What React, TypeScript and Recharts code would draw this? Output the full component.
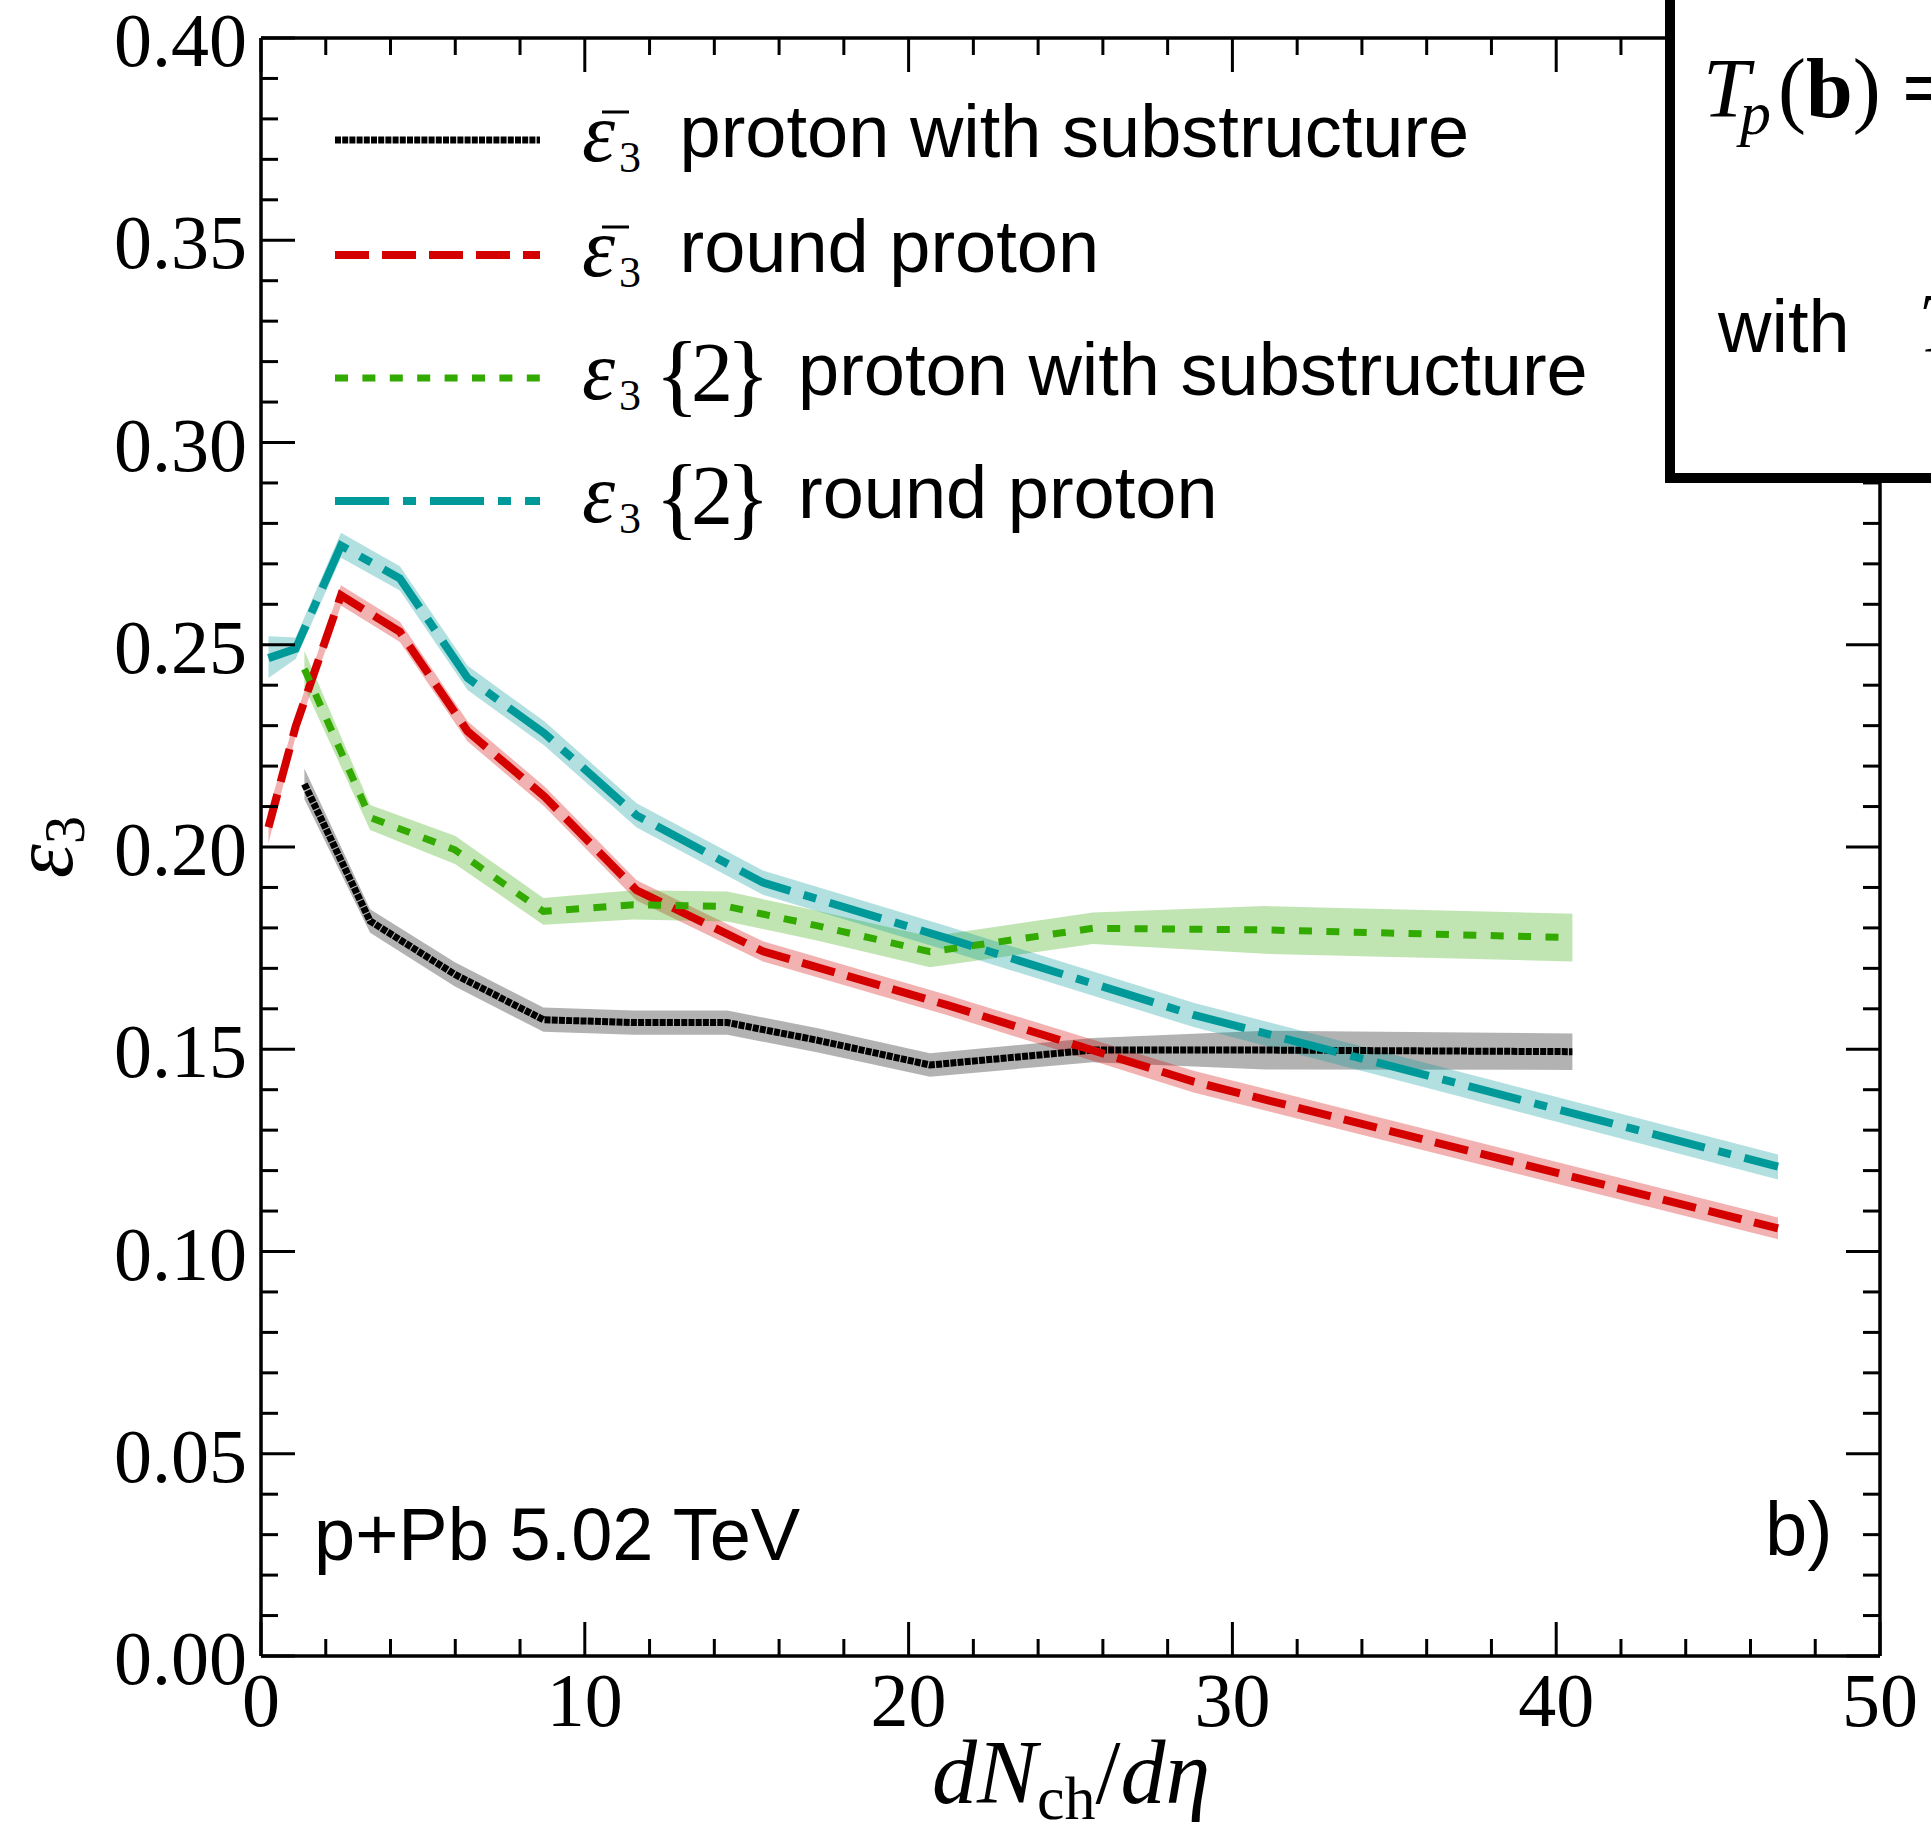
import React from 'react';
import { ComposedChart, Area, Line, XAxis, YAxis } from 'recharts';

// dN_ch/deta bins, proton with substructure
const subX = [1.34, 3.37, 5.99, 8.72, 11.5, 14.4, 17.2, 20.66, 25.69, 31.0, 40.5];
// mean eccentricity, proton with substructure
const meanSub = [0.2156, 0.1817, 0.1685, 0.1573, 0.1566, 0.1566, 0.1522, 0.1461, 0.1498, 0.1498, 0.1494];
const meanSubErr = [0.0038, 0.0029, 0.003, 0.003, 0.003, 0.003, 0.003, 0.0029, 0.003, 0.0048, 0.0045];
// two-particle cumulant eccentricity, proton with substructure
const twoSub = [0.244, 0.2073, 0.1993, 0.1841, 0.1857, 0.1853, 0.1805, 0.1741, 0.1799, 0.1795, 0.1776];
const twoSubErr = [0.0045, 0.0031, 0.0035, 0.0033, 0.0036, 0.0037, 0.0037, 0.0038, 0.0039, 0.0059, 0.0059];

// dN_ch/deta bins, round proton
const roundX = [0.23, 1.07, 2.47, 4.29, 6.38, 8.75, 11.6, 15.5, 21.2, 28.8, 46.85];
// mean eccentricity, round proton
const meanRound = [0.2049, 0.2298, 0.2622, 0.2532, 0.2286, 0.2125, 0.1893, 0.1742, 0.1609, 0.142, 0.1057];
const meanRoundErr = [0.004, 0.0025, 0.0025, 0.0025, 0.0025, 0.0025, 0.0025, 0.0025, 0.0025, 0.0027, 0.0027];
// two-particle cumulant eccentricity, round proton
const twoRound = [0.2467, 0.249, 0.2745, 0.2664, 0.2418, 0.2281, 0.2078, 0.1912, 0.1774, 0.1585, 0.121];
const twoRoundLo = [0.2418, 0.2465, 0.2715, 0.2634, 0.2388, 0.2251, 0.2048, 0.1882, 0.1744, 0.1555, 0.1178];
const twoRoundHi = [0.2521, 0.2518, 0.2777, 0.2694, 0.2448, 0.2311, 0.2108, 0.1942, 0.1804, 0.1615, 0.124];

// axis ticks
const X_MAJOR = [0, 10, 20, 30, 40, 50];
const X_MINOR = [2, 4, 6, 8, 12, 14, 16, 18, 22, 24, 26, 28, 32, 34, 36, 38, 42, 44, 46, 48];
const Y_MAJOR = [0, 0.05, 0.1, 0.15, 0.2, 0.25, 0.3, 0.35, 0.4];
const Y_MINOR = [
  0.01, 0.02, 0.03, 0.04, 0.06, 0.07, 0.08, 0.09, 0.11, 0.12, 0.13, 0.14, 0.16, 0.17, 0.18, 0.19,
  0.21, 0.22, 0.23, 0.24, 0.26, 0.27, 0.28, 0.29, 0.31, 0.32, 0.33, 0.34, 0.36, 0.37, 0.38, 0.39,
];

type Row = { x: number; y: number; band: [number, number] };

const withErr = (xs: number[], ys: number[], err: number[]): Row[] =>
  xs.map((x, i) => ({ x, y: ys[i], band: [ys[i] - err[i], ys[i] + err[i]] }));
const withBand = (xs: number[], ys: number[], lo: number[], hi: number[]): Row[] =>
  xs.map((x, i) => ({ x, y: ys[i], band: [lo[i], hi[i]] }));

const SERIES = [
  {
    id: 'meanSub',
    data: withErr(subX, meanSub, meanSubErr),
    color: '#000000',
    width: 7,
    dash: '6 1.2',
    legendY: 140,
    bar: true,
    text: 'proton with substructure',
  },
  {
    id: 'meanRound',
    data: withErr(roundX, meanRound, meanRoundErr),
    color: '#d40000',
    width: 8,
    dash: '34 13',
    legendY: 255,
    bar: true,
    text: 'round proton',
  },
  {
    id: 'twoSub',
    data: withErr(subX, twoSub, twoSubErr),
    color: '#33aa00',
    width: 7,
    dash: '13 14.4',
    legendY: 378,
    bar: false,
    text: 'proton with substructure',
  },
  {
    id: 'twoRound',
    data: withBand(roundX, twoRound, twoRoundLo, twoRoundHi),
    color: '#009999',
    width: 8,
    dash: '54 14 13 14',
    legendY: 501,
    bar: false,
    text: 'round proton',
  },
];

const SERIF = '"Liberation Serif", "DejaVu Serif", serif';
const SANS = '"Liberation Sans", Arial, sans-serif';
const MAJOR_LEN = 34;
const MINOR_LEN = 17;
const TICK_W = 3;

const LeftTick = (p: any) => {
  const { x, y, payload } = p;
  const v = payload.value as number;
  const major = Y_MAJOR.includes(v);
  return (
    <g>
      <line x1={x} x2={x + (major ? MAJOR_LEN : MINOR_LEN)} y1={y} y2={y} stroke="#000" strokeWidth={TICK_W} />
      {major && (
        <text x={x - 14} y={y + 28} textAnchor="end" fontFamily={SERIF} fontSize={76} fill="#000">
          {v.toFixed(2)}
        </text>
      )}
    </g>
  );
};

const RightTick = (p: any) => {
  const { x, y, payload } = p;
  const major = Y_MAJOR.includes(payload.value);
  return <line x1={x} x2={x - (major ? MAJOR_LEN : MINOR_LEN)} y1={y} y2={y} stroke="#000" strokeWidth={TICK_W} />;
};

const BottomTick = (p: any) => {
  const { x, y, payload } = p;
  const v = payload.value as number;
  const major = X_MAJOR.includes(v);
  return (
    <g>
      <line x1={x} x2={x} y1={y} y2={y - (major ? MAJOR_LEN : MINOR_LEN)} stroke="#000" strokeWidth={TICK_W} />
      {major && (
        <text x={x} y={y + 70} textAnchor="middle" fontFamily={SERIF} fontSize={76} fill="#000">
          {String(v)}
        </text>
      )}
    </g>
  );
};

const TopTick = (p: any) => {
  const { x, y, payload } = p;
  const major = X_MAJOR.includes(payload.value);
  return <line x1={x} x2={x} y1={y} y2={y + (major ? MAJOR_LEN : MINOR_LEN)} stroke="#000" strokeWidth={TICK_W} />;
};

const axisLine = { stroke: '#000', strokeWidth: 3.5 };

const LegendRows = () => (
  <g>
    {SERIES.map((s) => {
      const mathBase = s.legendY + 21;
      const textBase = s.legendY + 17;
      return (
        <g key={s.id}>
          <line x1={335} x2={540} y1={s.legendY} y2={s.legendY} stroke={s.color} strokeWidth={s.width} strokeDasharray={s.dash} />
          <text x={582} y={mathBase} fontFamily={SERIF} fontStyle="italic" fontSize={84} fill="#000">
            ε
          </text>
          {s.bar && <line x1={602} x2={629} y1={mathBase - 49} y2={mathBase - 49} stroke="#000" strokeWidth={3} />}
          <text x={619} y={mathBase + 11} fontFamily={SERIF} fontSize={44} fill="#000">
            3
          </text>
          {!s.bar && (
            <g>
              <text x={655} y={mathBase + 6} fontFamily={SERIF} fontSize={92} fill="#000">
                {'{'}
              </text>
              <text x={691} y={mathBase + 2} fontFamily={SERIF} fontSize={84} fill="#000">
                2
              </text>
              <text x={726} y={mathBase + 6} fontFamily={SERIF} fontSize={92} fill="#000">
                {'}'}
              </text>
            </g>
          )}
          <text x={s.bar ? 679.5 : 798} y={textBase} fontFamily={SANS} fontSize={74} fill="#000">
            {s.text}
          </text>
        </g>
      );
    })}
  </g>
);

export default function App() {
  return (
    <div
      style={{
        position: 'fixed',
        left: 0,
        top: 0,
        width: 1931,
        height: 1826,
        overflow: 'hidden',
        background: '#ffffff',
      }}
    >
      <ComposedChart width={1931} height={1826} margin={{ top: 37, right: 50, bottom: 0, left: 0 }}>
        <XAxis
          xAxisId="bottom"
          orientation="bottom"
          dataKey="x"
          type="number"
          domain={[0, 50]}
          ticks={[...X_MAJOR, ...X_MINOR]}
          interval={0}
          height={170}
          tickSize={0}
          tickMargin={0}
          tickLine={false}
          axisLine={axisLine}
          tick={(p: any) => <BottomTick {...p} />}
          allowDataOverflow
        />
        <XAxis
          xAxisId="top"
          orientation="top"
          dataKey="x"
          type="number"
          domain={[0, 50]}
          ticks={[...X_MAJOR, ...X_MINOR]}
          interval={0}
          height={1}
          tickSize={0}
          tickMargin={0}
          tickLine={false}
          axisLine={axisLine}
          tick={(p: any) => <TopTick {...p} />}
          allowDataOverflow
        />
        <YAxis
          yAxisId="left"
          orientation="left"
          type="number"
          domain={[0, 0.4]}
          ticks={[...Y_MAJOR, ...Y_MINOR]}
          interval={0}
          width={261}
          tickSize={0}
          tickMargin={0}
          tickLine={false}
          axisLine={axisLine}
          tick={(p: any) => <LeftTick {...p} />}
          allowDataOverflow
        />
        <YAxis
          yAxisId="right"
          orientation="right"
          type="number"
          domain={[0, 0.4]}
          ticks={[...Y_MAJOR, ...Y_MINOR]}
          interval={0}
          width={1}
          tickSize={0}
          tickMargin={0}
          tickLine={false}
          axisLine={axisLine}
          tick={(p: any) => <RightTick {...p} />}
          allowDataOverflow
        />
        {SERIES.flatMap((s) => [
          <Area
            key={s.id + '-band'}
            data={s.data}
            dataKey="band"
            xAxisId="bottom"
            yAxisId="left"
            type="linear"
            stroke="none"
            fill={s.color}
            fillOpacity={0.3}
            isAnimationActive={false}
            dot={false}
            activeDot={false}
          />,
          <Line
            key={s.id + '-line'}
            data={s.data}
            dataKey="y"
            xAxisId="bottom"
            yAxisId="left"
            type="linear"
            stroke={s.color}
            strokeWidth={s.width}
            strokeDasharray={s.dash}
            dot={false}
            activeDot={false}
            isAnimationActive={false}
          />,
        ])}
      </ComposedChart>
      <svg
        width={1931}
        height={1826}
        style={{ position: 'absolute', left: 0, top: 0, pointerEvents: 'none' }}
      >
        {/* axis titles */}
        <text x={1071} y={1803} textAnchor="middle" fontFamily={SERIF} fontStyle="italic" fontSize={90} fill="#000">
          dN
          <tspan fontStyle="normal" fontSize={62} dy={16}>
            ch
          </tspan>
          <tspan fontStyle="normal" dy={-16}>
            /
          </tspan>
          dη
        </text>
        <text
          x={72}
          y={847}
          transform="rotate(-90 72 847)"
          textAnchor="middle"
          fontFamily={SERIF}
          fontStyle="italic"
          fontSize={86}
          fill="#000"
        >
          ε
          <tspan fontStyle="normal" fontSize={56} dy={12}>
            3
          </tspan>
        </text>

        <LegendRows />

        <text x={314} y={1560} fontFamily={SANS} fontSize={74} fill="#000">
          p+Pb 5.02 TeV
        </text>
        <text x={1765} y={1555} fontFamily={SANS} fontSize={76} fill="#000">
          b)
        </text>

        {/* parameter box in the upper right corner */}
        <rect x={1670} y={-30} width={400} height={508} fill="#ffffff" stroke="#000" strokeWidth={10} />
        <text x={1703} y={117} fontFamily={SERIF} fontSize={84} fill="#000">
          <tspan fontStyle="italic">T</tspan>
          <tspan fontStyle="italic" fontSize={62} x={1740} dy={17}>
            p
          </tspan>
          <tspan x={1778} dy={-17}>
            (
          </tspan>
          <tspan fontWeight="bold">b</tspan>
          <tspan>)</tspan>
          <tspan x={1902} fontWeight="bold">
            =
          </tspan>
        </text>
        <text x={1718} y={352} fontFamily={SANS} fontSize={74} fill="#000">
          with
        </text>
        <text x={1918} y={352} fontFamily={SERIF} fontStyle="italic" fontSize={84} fill="#000">
          T
        </text>
      </svg>
    </div>
  );
}
